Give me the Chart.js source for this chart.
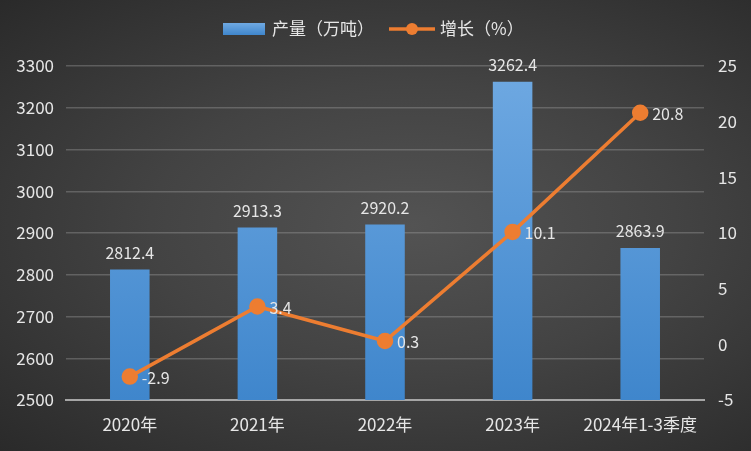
<!DOCTYPE html>
<html>
<head>
<meta charset="utf-8">
<script src="https://cdn.jsdelivr.net/npm/chart.js@4.4.1/dist/chart.umd.min.js"></script>
<style>
  html, body { margin: 0; padding: 0; }
  body {
    width: 751px; height: 451px; overflow: hidden;
    background: radial-gradient(ellipse at 55% 50%, #535353 0%, #434343 45%, #2a2a2a 100%);
  }
</style>
</head>
<body>
<canvas id="chart" width="751" height="451"></canvas>
<script>
const categories = ["2020年", "2021年", "2022年", "2023年", "2024年1-3季度"];
const output = [2812.4, 2913.3, 2920.2, 3262.4, 2863.9];
const growth = [-2.9, 3.4, 0.3, 10.1, 20.8];

const FONT = "'Noto Sans CJK SC', 'Microsoft YaHei', sans-serif";
const TEXT = "#e6e6e6";
const BLUE = "#4a8fd6";
const ORANGE = "#ed7d31";

// value labels for bars and line points
const valueLabels = {
  id: "valueLabels",
  afterDatasetsDraw(chart) {
    const ctx = chart.ctx;
    ctx.save();
    ctx.font = "16px " + FONT;
    ctx.fillStyle = TEXT;
    chart.getDatasetMeta(0).data.forEach((bar, i) => {
      ctx.textAlign = "center";
      ctx.textBaseline = "bottom";
      ctx.fillText(output[i].toFixed(1), bar.x, bar.y - 9);
    });
    chart.getDatasetMeta(1).data.forEach((pt, i) => {
      ctx.textAlign = "left";
      ctx.textBaseline = "middle";
      ctx.fillText(growth[i].toFixed(1), pt.x + 12, pt.y + 1);
    });
    ctx.restore();
  }
};

// legend drawn at the top, bar swatch then line-with-dot swatch
const topLegend = {
  id: "topLegend",
  afterDraw(chart) {
    const ctx = chart.ctx;
    const names = chart.data.datasets.map((d) => d.label);
    ctx.save();
    ctx.font = "17px " + FONT;
    ctx.fillStyle = TEXT;
    ctx.textBaseline = "middle";
    const y = 29;
    let x = 223;
    const g = ctx.createLinearGradient(0, y - 6, 0, y + 6);
    g.addColorStop(0, "#6fa9e2");
    g.addColorStop(1, "#3f86cc");
    ctx.fillStyle = g;
    ctx.fillRect(x, y - 6, 42, 12);
    x += 49;
    ctx.fillStyle = TEXT;
    ctx.fillText(names[0], x, y);
    x += ctx.measureText(names[0]).width + 15;
    ctx.strokeStyle = ORANGE;
    ctx.lineWidth = 3.5;
    ctx.beginPath();
    ctx.moveTo(x, y);
    ctx.lineTo(x + 46, y);
    ctx.stroke();
    ctx.fillStyle = ORANGE;
    ctx.beginPath();
    ctx.arc(x + 23, y, 6, 0, Math.PI * 2);
    ctx.fill();
    x += 51;
    ctx.fillStyle = TEXT;
    ctx.fillText(names[1], x, y);
    ctx.restore();
  }
};

new Chart(document.getElementById("chart"), {
  data: {
    labels: categories,
    datasets: [
      {
        type: "bar",
        label: "产量（万吨）",
        data: output,
        yAxisID: "y",
        order: 2,
        barPercentage: 0.62,
        categoryPercentage: 0.5,
        backgroundColor: (c) => {
          const area = c.chart.chartArea;
          if (!area) return BLUE;
          const g = c.chart.ctx.createLinearGradient(0, area.top, 0, area.bottom);
          g.addColorStop(0, "#6fa9e2");
          g.addColorStop(1, "#3f86cc");
          return g;
        },
      },
      {
        type: "line",
        label: "增长（%）",
        data: growth,
        yAxisID: "y1",
        order: 1,
        borderColor: ORANGE,
        backgroundColor: ORANGE,
        borderWidth: 3.5,
        pointRadius: 6.5,
        pointHoverRadius: 6.5,
        tension: 0,
      },
    ],
  },
  options: {
    responsive: false,
    animation: false,
    devicePixelRatio: 1,
    layout: { padding: { top: 66, bottom: 0, left: 0, right: 0 } },
    plugins: {
      legend: { display: false },
      tooltip: { enabled: false },
    },
    scales: {
      x: {
        grid: { display: false },
        border: { color: "#a6a6a6", width: 2 },
        ticks: { color: TEXT, font: { family: FONT, size: 17 }, padding: 6, maxRotation: 0, autoSkip: false },
        afterFit(s) { s.height = 51; },
      },
      y: {
        position: "left",
        min: 2500,
        max: 3300,
        ticks: { stepSize: 100, color: TEXT, font: { family: FONT, size: 17 }, padding: 12, callback: (v) => String(v) },
        grid: { color: "rgba(170,170,170,0.35)", lineWidth: 1.5, drawTicks: false },
        border: { display: false },
        afterFit(s) { s.width = 66; },
      },
      y1: {
        position: "right",
        min: -5,
        max: 25,
        ticks: { stepSize: 5, color: TEXT, font: { family: FONT, size: 17 }, padding: 14, callback: (v) => String(v) },
        grid: { display: false, drawTicks: false },
        border: { display: false },
        afterFit(s) { s.width = 47; },
      },
    },
  },
  plugins: [valueLabels, topLegend],
});
</script>
</body>
</html>
